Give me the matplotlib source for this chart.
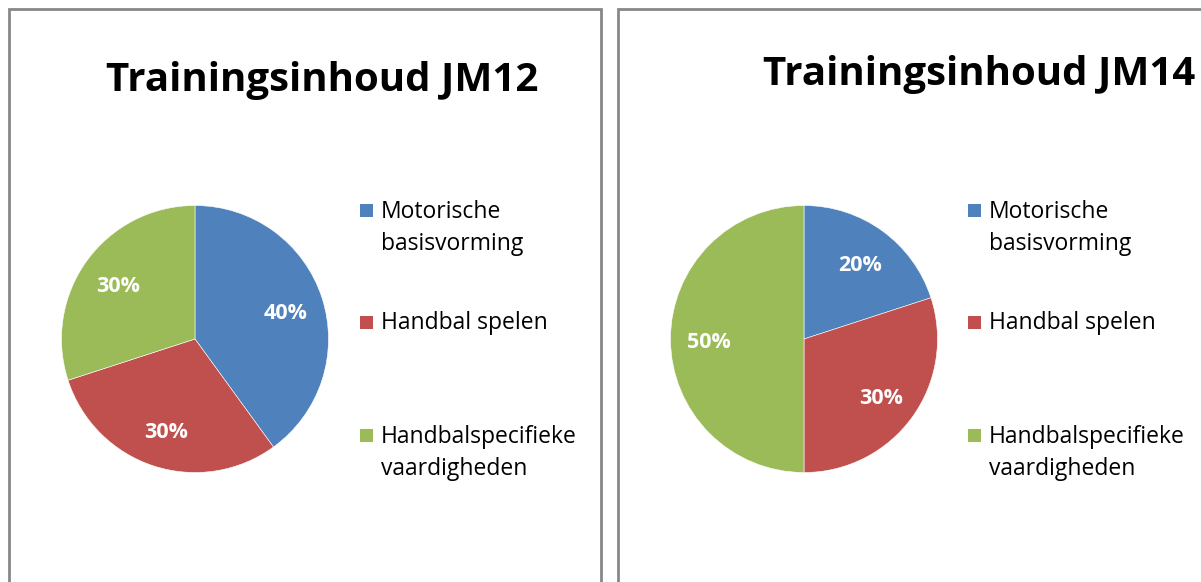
import matplotlib.pyplot as plt
from matplotlib.patches import Rectangle

W, H = 1201, 582

categories = ["Motorische\nbasisvorming", "Handbal spelen", "Handbalspecifieke\nvaardigheden"]
colors = ["#4F81BD", "#C0504D", "#9BBB59"]

titles = ["Trainingsinhoud JM12", "Trainingsinhoud JM14"]
jm12 = [40, 30, 30]
jm14 = [20, 30, 50]
series = [jm12, jm14]

# layout in pixels (left panel, right panel)
panel_x = [(8.5, 601), (618, 1215)]
pie_center = [(195, 339), (804, 339)]
pie_r = 133.5
title_xy = [(322, 80), (979, 75)]
legend_x = [360, 968]
legend_y = [228, 323, 453]

plt.rcParams['font.family'] = ['Open Sans', 'DejaVu Sans']

fig = plt.figure(figsize=(W / 100, H / 100), dpi=100)


def fx(px):
    return px / W


def fy(py):
    return 1 - py / H


for i in range(2):
    x0, x1 = panel_x[i]
    fig.add_artist(Rectangle((fx(x0), fy(H + 20)), fx(x1 - x0), (H + 20 - 9) / H,
                             transform=fig.transFigure, fill=False,
                             edgecolor="#878787", linewidth=2))

    cx, cy = pie_center[i]
    ax = fig.add_axes([fx(cx - pie_r), fy(cy + pie_r), fx(2 * pie_r), 2 * pie_r / H])
    wedges, texts, autotexts = ax.pie(
        series[i], colors=colors, startangle=90, counterclock=False,
        autopct="%d%%", pctdistance=0.71,
        wedgeprops=dict(edgecolor="white", linewidth=0.4),
        textprops=dict(color="white", fontsize=15.5, fontweight="bold"))
    for t in autotexts:
        px, py = t.get_position()
        t.set_position((px, py - 0.025))
    ax.set_xlim(-1, 1)
    ax.set_ylim(-1, 1)
    ax.axis("off")

    tx, ty = title_xy[i]
    fig.text(fx(tx), fy(ty), titles[i], ha="center", va="center",
             fontsize=29, fontweight="bold", color="black")

    for j, lab in enumerate(categories):
        ly = legend_y[j]
        sq_top = ly - 24 if "\n" in lab else ly - 7
        fig.add_artist(Rectangle((fx(legend_x[i]), fy(sq_top + 13)),
                                 fx(13), 13 / H, transform=fig.transFigure,
                                 facecolor=colors[j], edgecolor="none"))
        fig.text(fx(legend_x[i] + 21), fy(ly), lab, ha="left", va="center",
                 fontsize=16.5, color="black", linespacing=1.4)

fig.savefig("out.png", dpi=100, facecolor="white")
